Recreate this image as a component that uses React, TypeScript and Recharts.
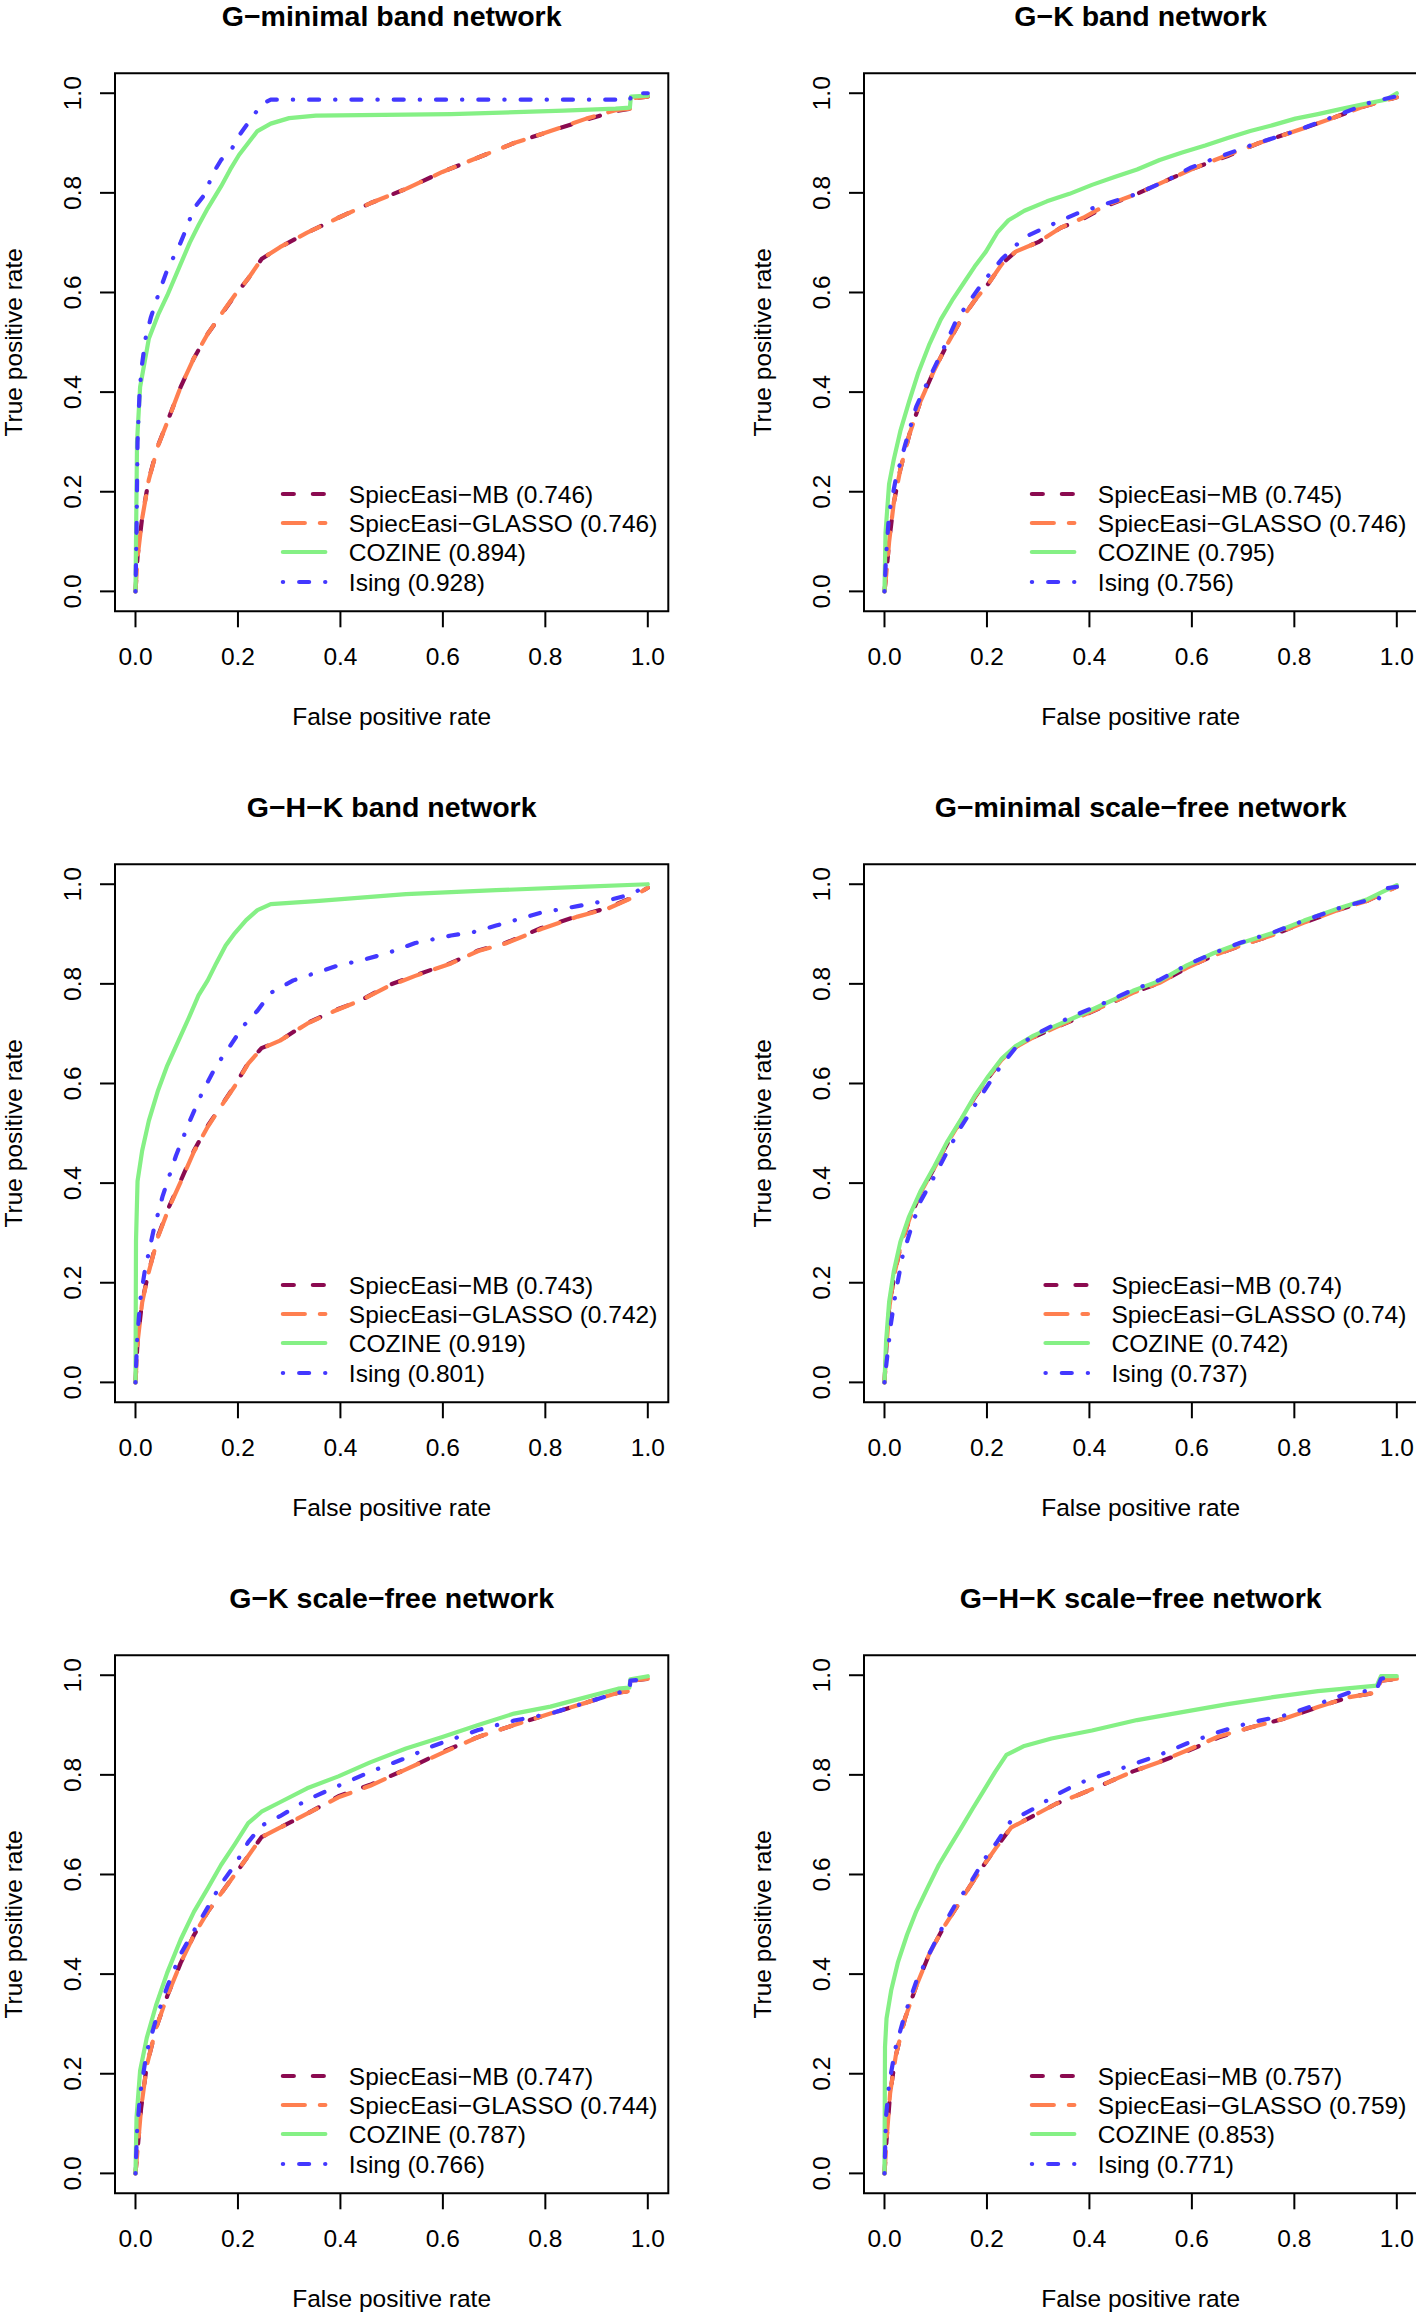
import { LineChart, Line, XAxis, YAxis, ReferenceArea } from "recharts";

// ---- data ([fpr, tpr]) ----

const titles = [
    "G\u2212minimal band network",
    "G\u2212K band network",
    "G\u2212H\u2212K band network",
    "G\u2212minimal scale\u2212free network",
    "G\u2212K scale\u2212free network",
    "G\u2212H\u2212K scale\u2212free network",
];

const seriesNames = ["SpiecEasi\u2212MB", "SpiecEasi\u2212GLASSO", "COZINE", "Ising"];

const aucMB = ["0.746", "0.745", "0.743", "0.74", "0.747", "0.757"];
const aucGlasso = ["0.746", "0.746", "0.742", "0.74", "0.744", "0.759"];
const aucCozine = ["0.894", "0.795", "0.919", "0.742", "0.787", "0.853"];
const aucIsing = ["0.928", "0.756", "0.801", "0.737", "0.766", "0.771"];

const axisTicks = [0, 0.2, 0.4, 0.6, 0.8, 1];

// G-minimal band
const p1MB = [[0,0],[0.004,0.07],[0.013,0.148],[0.026,0.225],[0.044,0.293],[0.066,0.351],[0.088,0.41],[0.114,0.468],[0.141,0.517],[0.167,0.555],[0.194,0.594],[0.22,0.628],[0.246,0.667],[0.282,0.691],[0.335,0.72],[0.396,0.75],[0.458,0.779],[0.528,0.808],[0.599,0.842],[0.669,0.871],[0.739,0.9],[0.81,0.924],[0.88,0.947],[0.937,0.964],[0.966,0.969],[0.968,0.99],[1,0.993]];
const p1Glasso = [[0,0],[0.004,0.068],[0.013,0.146],[0.026,0.224],[0.044,0.292],[0.066,0.35],[0.088,0.41],[0.114,0.468],[0.141,0.517],[0.167,0.556],[0.194,0.595],[0.22,0.628],[0.246,0.667],[0.282,0.691],[0.335,0.72],[0.396,0.75],[0.458,0.779],[0.528,0.808],[0.599,0.842],[0.669,0.871],[0.739,0.9],[0.81,0.924],[0.88,0.949],[0.937,0.966],[0.966,0.969],[0.968,0.99],[1,0.993]];
const p1Cozine = [[0,0],[0.003,0.3],[0.009,0.41],[0.026,0.507],[0.044,0.555],[0.062,0.594],[0.088,0.657],[0.106,0.7],[0.123,0.735],[0.141,0.769],[0.167,0.813],[0.185,0.847],[0.202,0.876],[0.22,0.9],[0.238,0.924],[0.264,0.939],[0.3,0.95],[0.352,0.955],[0.616,0.958],[0.836,0.965],[0.937,0.969],[0.965,0.971],[0.967,0.993],[1,0.995]];
const p1Ising = [[0,0],[0.002,0.12],[0.004,0.3],[0.008,0.4],[0.012,0.45],[0.02,0.51],[0.03,0.55],[0.044,0.594],[0.06,0.64],[0.07,0.662],[0.088,0.7],[0.1,0.73],[0.114,0.769],[0.136,0.798],[0.15,0.837],[0.167,0.866],[0.189,0.89],[0.202,0.915],[0.229,0.953],[0.246,0.978],[0.264,0.987],[0.965,0.987],[0.97,1],[1,1]];

// G-K band
const p2MB = [[0,0],[0.004,0.04],[0.009,0.099],[0.018,0.177],[0.031,0.245],[0.048,0.313],[0.07,0.381],[0.097,0.444],[0.123,0.497],[0.15,0.546],[0.176,0.584],[0.203,0.618],[0.229,0.657],[0.256,0.682],[0.3,0.701],[0.344,0.73],[0.388,0.748],[0.432,0.773],[0.493,0.798],[0.555,0.827],[0.608,0.851],[0.67,0.874],[0.731,0.9],[0.802,0.924],[0.872,0.949],[0.934,0.973],[0.969,0.983],[1,0.992]];
const p2Glasso = [[0,0],[0.004,0.04],[0.009,0.099],[0.018,0.177],[0.031,0.245],[0.048,0.313],[0.07,0.381],[0.097,0.444],[0.123,0.497],[0.15,0.546],[0.176,0.584],[0.203,0.618],[0.229,0.657],[0.256,0.682],[0.3,0.701],[0.344,0.73],[0.388,0.75],[0.432,0.775],[0.493,0.798],[0.555,0.827],[0.608,0.851],[0.67,0.876],[0.731,0.9],[0.802,0.924],[0.872,0.949],[0.934,0.973],[0.969,0.983],[1,0.992]];
const p2Cozine = [[0,0],[0.002,0.118],[0.009,0.216],[0.018,0.264],[0.031,0.322],[0.048,0.381],[0.066,0.439],[0.088,0.497],[0.11,0.546],[0.132,0.584],[0.154,0.618],[0.176,0.652],[0.198,0.682],[0.22,0.72],[0.242,0.745],[0.273,0.764],[0.317,0.783],[0.361,0.798],[0.405,0.816],[0.449,0.832],[0.493,0.847],[0.537,0.866],[0.581,0.881],[0.626,0.895],[0.67,0.91],[0.714,0.924],[0.758,0.936],[0.802,0.949],[0.846,0.958],[0.89,0.968],[0.934,0.978],[0.978,0.987],[1,1]];
const p2Ising = [[0,0],[0.003,0.07],[0.009,0.157],[0.022,0.225],[0.04,0.293],[0.062,0.371],[0.088,0.429],[0.115,0.487],[0.141,0.546],[0.167,0.584],[0.194,0.623],[0.229,0.667],[0.273,0.711],[0.326,0.736],[0.379,0.76],[0.423,0.775],[0.493,0.798],[0.555,0.827],[0.599,0.851],[0.626,0.862],[0.714,0.895],[0.802,0.924],[0.89,0.958],[0.952,0.983],[1,0.994]];

// G-H-K band
const p3MB = [[0,0],[0.004,0.082],[0.013,0.163],[0.026,0.223],[0.044,0.294],[0.066,0.354],[0.088,0.404],[0.114,0.465],[0.141,0.515],[0.167,0.555],[0.194,0.596],[0.22,0.641],[0.246,0.671],[0.282,0.686],[0.335,0.721],[0.387,0.746],[0.44,0.767],[0.493,0.797],[0.546,0.817],[0.616,0.842],[0.669,0.867],[0.722,0.882],[0.792,0.912],[0.863,0.936],[0.924,0.953],[0.968,0.973],[1,0.993]];
const p3Glasso = [[0,0],[0.004,0.08],[0.013,0.16],[0.026,0.222],[0.044,0.292],[0.066,0.352],[0.088,0.402],[0.114,0.463],[0.141,0.513],[0.167,0.554],[0.194,0.595],[0.22,0.64],[0.246,0.67],[0.282,0.686],[0.335,0.72],[0.387,0.745],[0.44,0.767],[0.493,0.795],[0.546,0.816],[0.616,0.841],[0.669,0.866],[0.722,0.881],[0.792,0.91],[0.863,0.935],[0.924,0.952],[0.968,0.972],[1,0.993]];
const p3Cozine = [[0,0],[0.001,0.284],[0.004,0.404],[0.013,0.465],[0.026,0.525],[0.044,0.586],[0.062,0.636],[0.084,0.686],[0.106,0.736],[0.123,0.777],[0.141,0.807],[0.158,0.842],[0.176,0.877],[0.194,0.902],[0.216,0.928],[0.238,0.948],[0.264,0.96],[0.352,0.966],[0.44,0.973],[0.528,0.98],[0.704,0.988],[0.88,0.995],[1,1]];
const p3Ising = [[0,0],[0.003,0.082],[0.009,0.163],[0.018,0.223],[0.035,0.304],[0.053,0.374],[0.079,0.455],[0.106,0.525],[0.132,0.586],[0.158,0.636],[0.185,0.676],[0.211,0.716],[0.238,0.746],[0.264,0.782],[0.308,0.807],[0.352,0.822],[0.396,0.837],[0.44,0.847],[0.493,0.862],[0.546,0.882],[0.616,0.897],[0.66,0.904],[0.704,0.917],[0.792,0.943],[0.863,0.956],[0.924,0.968],[0.968,0.98],[1,0.998]];

// G-minimal scale-free
const p4MB = [[0,0],[0.004,0.075],[0.01,0.155],[0.019,0.215],[0.032,0.276],[0.049,0.328],[0.07,0.379],[0.097,0.43],[0.123,0.48],[0.15,0.526],[0.176,0.572],[0.203,0.612],[0.229,0.647],[0.256,0.673],[0.291,0.693],[0.335,0.713],[0.379,0.732],[0.432,0.757],[0.485,0.782],[0.537,0.802],[0.59,0.832],[0.643,0.857],[0.696,0.877],[0.758,0.898],[0.819,0.923],[0.89,0.95],[0.943,0.967],[0.969,0.98],[1,0.995]];
const p4Glasso = [[0,0],[0.004,0.075],[0.01,0.155],[0.019,0.216],[0.032,0.277],[0.049,0.329],[0.07,0.38],[0.097,0.43],[0.123,0.481],[0.15,0.527],[0.176,0.573],[0.203,0.613],[0.229,0.648],[0.256,0.673],[0.291,0.693],[0.335,0.713],[0.379,0.733],[0.432,0.757],[0.485,0.782],[0.537,0.802],[0.59,0.832],[0.643,0.857],[0.696,0.877],[0.758,0.898],[0.819,0.923],[0.89,0.95],[0.943,0.967],[0.969,0.98],[1,0.995]];
const p4Cozine = [[0,0],[0.003,0.081],[0.009,0.161],[0.018,0.222],[0.031,0.282],[0.048,0.333],[0.07,0.383],[0.097,0.433],[0.123,0.484],[0.15,0.529],[0.176,0.575],[0.203,0.615],[0.229,0.65],[0.256,0.675],[0.291,0.696],[0.335,0.716],[0.379,0.736],[0.432,0.761],[0.485,0.786],[0.537,0.806],[0.59,0.837],[0.643,0.862],[0.696,0.882],[0.758,0.902],[0.819,0.927],[0.89,0.953],[0.943,0.97],[0.969,0.983],[1,0.998]];
const p4Ising = [[0,0],[0.004,0.04],[0.013,0.121],[0.022,0.181],[0.035,0.252],[0.053,0.313],[0.07,0.363],[0.097,0.413],[0.123,0.464],[0.15,0.514],[0.185,0.57],[0.22,0.625],[0.256,0.672],[0.291,0.696],[0.335,0.72],[0.379,0.74],[0.432,0.763],[0.485,0.788],[0.537,0.808],[0.59,0.838],[0.643,0.862],[0.696,0.883],[0.758,0.903],[0.819,0.927],[0.89,0.953],[0.943,0.968],[0.965,0.97],[0.969,0.99],[1,0.995]];

// G-K scale-free
const p5MB = [[0,0],[0.004,0.047],[0.011,0.131],[0.022,0.216],[0.04,0.291],[0.062,0.356],[0.088,0.422],[0.114,0.478],[0.141,0.525],[0.167,0.562],[0.194,0.6],[0.22,0.637],[0.246,0.675],[0.282,0.694],[0.335,0.722],[0.396,0.757],[0.458,0.78],[0.528,0.811],[0.599,0.846],[0.669,0.876],[0.739,0.9],[0.81,0.923],[0.88,0.945],[0.942,0.965],[0.964,0.968],[0.966,0.989],[1,0.993]];
const p5Glasso = [[0,0],[0.004,0.047],[0.011,0.131],[0.022,0.216],[0.04,0.291],[0.062,0.356],[0.088,0.422],[0.114,0.478],[0.141,0.525],[0.167,0.562],[0.194,0.6],[0.22,0.637],[0.246,0.675],[0.282,0.694],[0.335,0.722],[0.396,0.755],[0.458,0.778],[0.528,0.811],[0.599,0.844],[0.669,0.876],[0.739,0.9],[0.81,0.923],[0.88,0.945],[0.942,0.965],[0.964,0.968],[0.966,0.989],[1,0.993]];
const p5Cozine = [[0,0],[0.002,0.112],[0.009,0.206],[0.022,0.272],[0.04,0.337],[0.062,0.403],[0.088,0.469],[0.114,0.525],[0.141,0.572],[0.167,0.619],[0.194,0.661],[0.22,0.703],[0.246,0.726],[0.282,0.745],[0.335,0.773],[0.396,0.797],[0.458,0.825],[0.528,0.853],[0.599,0.876],[0.669,0.9],[0.739,0.923],[0.81,0.937],[0.88,0.956],[0.942,0.973],[0.964,0.975],[0.966,0.992],[1,0.998]];
const p5Ising = [[0,0],[0.003,0.084],[0.009,0.159],[0.022,0.244],[0.04,0.309],[0.062,0.375],[0.088,0.44],[0.114,0.487],[0.141,0.534],[0.167,0.581],[0.194,0.619],[0.22,0.665],[0.246,0.698],[0.282,0.717],[0.335,0.75],[0.396,0.778],[0.458,0.806],[0.528,0.834],[0.581,0.858],[0.669,0.89],[0.739,0.909],[0.81,0.923],[0.88,0.945],[0.942,0.965],[0.964,0.968],[0.966,0.989],[1,0.993]];

// G-H-K scale-free
const p6MB = [[0,0],[0.004,0.067],[0.011,0.161],[0.022,0.236],[0.04,0.311],[0.062,0.376],[0.088,0.442],[0.115,0.493],[0.141,0.535],[0.167,0.577],[0.194,0.619],[0.22,0.657],[0.247,0.694],[0.291,0.718],[0.335,0.742],[0.379,0.76],[0.432,0.783],[0.485,0.807],[0.537,0.826],[0.59,0.847],[0.652,0.875],[0.714,0.895],[0.784,0.914],[0.846,0.936],[0.907,0.956],[0.96,0.965],[0.969,0.989],[1,0.993]];
const p6Glasso = [[0,0],[0.004,0.067],[0.011,0.161],[0.022,0.236],[0.04,0.311],[0.062,0.376],[0.088,0.442],[0.115,0.493],[0.141,0.535],[0.167,0.577],[0.194,0.619],[0.22,0.657],[0.247,0.694],[0.291,0.718],[0.335,0.742],[0.379,0.76],[0.432,0.783],[0.485,0.807],[0.537,0.826],[0.59,0.849],[0.652,0.877],[0.714,0.895],[0.784,0.914],[0.846,0.936],[0.907,0.956],[0.96,0.965],[0.969,0.989],[1,0.993]];
const p6Cozine = [[0,0],[0.001,0.254],[0.004,0.311],[0.013,0.367],[0.026,0.423],[0.044,0.479],[0.062,0.526],[0.084,0.573],[0.106,0.619],[0.128,0.657],[0.15,0.694],[0.172,0.732],[0.194,0.769],[0.216,0.806],[0.238,0.84],[0.273,0.858],[0.326,0.873],[0.405,0.889],[0.493,0.91],[0.581,0.926],[0.67,0.942],[0.758,0.956],[0.846,0.968],[0.961,0.979],[0.969,0.998],[1,0.998]];
const p6Ising = [[0,0],[0.003,0.114],[0.009,0.18],[0.022,0.254],[0.04,0.32],[0.062,0.385],[0.088,0.442],[0.115,0.498],[0.141,0.544],[0.167,0.582],[0.194,0.629],[0.22,0.666],[0.247,0.708],[0.291,0.732],[0.335,0.76],[0.379,0.783],[0.432,0.802],[0.485,0.821],[0.537,0.84],[0.59,0.863],[0.652,0.886],[0.714,0.905],[0.784,0.92],[0.846,0.942],[0.907,0.965],[0.96,0.97],[0.969,0.993],[1,0.998]];

// ---- styling / layout ----

const FONT = "'Liberation Sans', Arial, Helvetica, sans-serif";
const FS = 24.5;

const COLORS = ["#8B0A50", "#FF7F50", "#85F085", "#4338FF"];
const DASHES = ["11 19", "22 15", undefined, "0.3 16 10 16"];

const COL_W = 748.8;
const ROW_H = 790.8;
const BOX_L = 115;
const BOX_T = 73.3;
const BOX_W = 553.3;
const BOX_H = 538;
const PANEL_W = 749;
const PANEL_H = 791;

const toPts = (a: number[][]) => a.map(([x, y]) => ({ x, y }));

const panels = [
    [p1MB, p1Glasso, p1Cozine, p1Ising],
    [p2MB, p2Glasso, p2Cozine, p2Ising],
    [p3MB, p3Glasso, p3Cozine, p3Ising],
    [p4MB, p4Glasso, p4Cozine, p4Ising],
    [p5MB, p5Glasso, p5Cozine, p5Ising],
    [p6MB, p6Glasso, p6Cozine, p6Ising],
];

let measureCtx: CanvasRenderingContext2D | null = null;
const textWidth = (s: string) => {
    if (!measureCtx) measureCtx = document.createElement("canvas").getContext("2d");
    if (!measureCtx) return s.length * FS * 0.52;
    measureCtx.font = `${FS}px ${FONT}`;
    return measureCtx.measureText(s).width;
};

const XTick = (props: any) => {
    const { x, y, payload } = props;
    return (
        <text x={x} y={y + 29.4} textAnchor="middle" dominantBaseline="central"
            fontFamily={FONT} fontSize={FS} fill="#000">
            {payload.value.toFixed(1)}
        </text>
    );
};

const YTick = (props: any) => {
    const { x, y, payload } = props;
    const cx = x - 27.7;
    return (
        <text x={cx} y={y} transform={`rotate(-90, ${cx}, ${y})`} textAnchor="middle"
            dominantBaseline="central" fontFamily={FONT} fontSize={FS} fill="#000">
            {payload.value.toFixed(1)}
        </text>
    );
};

const Panel = ({ idx }: { idx: number }) => {
    const series = panels[idx];
    const labels = [
        `${seriesNames[0]} (${aucMB[idx]})`,
        `${seriesNames[1]} (${aucGlasso[idx]})`,
        `${seriesNames[2]} (${aucCozine[idx]})`,
        `${seriesNames[3]} (${aucIsing[idx]})`,
    ];
    const maxW = Math.max(...labels.map(textWidth));
    const textX = BOX_L + BOX_W - 11 - maxW;
    const bottom = BOX_T + BOX_H;
    const rowOffsets = [117.3, 88.3, 59.3, 29.3];
    const cx = BOX_L + BOX_W / 2;

    return (
        <div style={{
            position: "absolute",
            left: (idx % 2) * COL_W,
            top: Math.floor(idx / 2) * ROW_H,
            width: PANEL_W,
            height: PANEL_H,
        }}>
            <LineChart
                width={PANEL_W}
                height={PANEL_H}
                margin={{ top: BOX_T, left: BOX_L - 60, right: PANEL_W - BOX_L - BOX_W, bottom: PANEL_H - BOX_T - BOX_H - 30 }}
            >
                <XAxis type="number" dataKey="x" domain={[-0.04, 1.04]} ticks={axisTicks}
                    allowDataOverflow height={30} axisLine={false} tickSize={16} tickMargin={0}
                    tickLine={{ stroke: "#000", strokeWidth: 2 }} tick={<XTick />} interval={0} />
                <YAxis type="number" dataKey="y" domain={[-0.04, 1.04]} ticks={axisTicks}
                    allowDataOverflow width={60} axisLine={false} tickSize={15} tickMargin={0}
                    tickLine={{ stroke: "#000", strokeWidth: 2 }} tick={<YTick />} interval={0} />
                {series.map((d, i) => (
                    <Line key={i} data={toPts(d)} dataKey="y" type="linear" dot={false}
                        activeDot={false} stroke={COLORS[i]} strokeWidth={4.2}
                        strokeDasharray={DASHES[i]} strokeLinecap="round" strokeLinejoin="round"
                        isAnimationActive={false} />
                ))}
                <ReferenceArea x1={-0.04} x2={1.04} y1={-0.04} y2={1.04} fill="none"
                    fillOpacity={0} stroke="#000" strokeWidth={2} ifOverflow="visible" />
            </LineChart>
            <svg width={PANEL_W} height={PANEL_H}
                style={{ position: "absolute", left: 0, top: 0, pointerEvents: "none", overflow: "visible" }}>
                <text x={cx} y={BOX_T - 57.5} textAnchor="middle" dominantBaseline="central"
                    fontFamily={FONT} fontSize={28.5} fontWeight="bold" fill="#000">
                    {titles[idx]}
                </text>
                <text x={cx} y={bottom + 105} textAnchor="middle" dominantBaseline="central"
                    fontFamily={FONT} fontSize={FS} fill="#000">
                    False positive rate
                </text>
                <text x={13.5} y={BOX_T + BOX_H / 2} transform={`rotate(-90, 13.5, ${BOX_T + BOX_H / 2})`}
                    textAnchor="middle" dominantBaseline="central" fontFamily={FONT} fontSize={FS} fill="#000">
                    True positive rate
                </text>
                {labels.map((lab, i) => {
                    const y = bottom - rowOffsets[i];
                    return (
                        <g key={i}>
                            <line x1={textX - 66} x2={textX - 23.5} y1={y} y2={y} stroke={COLORS[i]}
                                strokeWidth={4.2} strokeDasharray={DASHES[i]} strokeLinecap="round" />
                            <text x={textX} y={y} dominantBaseline="central" fontFamily={FONT}
                                fontSize={FS} fill="#000">
                                {lab}
                            </text>
                        </g>
                    );
                })}
            </svg>
        </div>
    );
};

export default function App() {
    return (
        <div style={{
            position: "absolute", left: 0, top: 0, width: 1416, height: 2314,
            overflow: "hidden", background: "#fff",
        }}>
            {titles.map((_, i) => <Panel key={i} idx={i} />)}
        </div>
    );
}
